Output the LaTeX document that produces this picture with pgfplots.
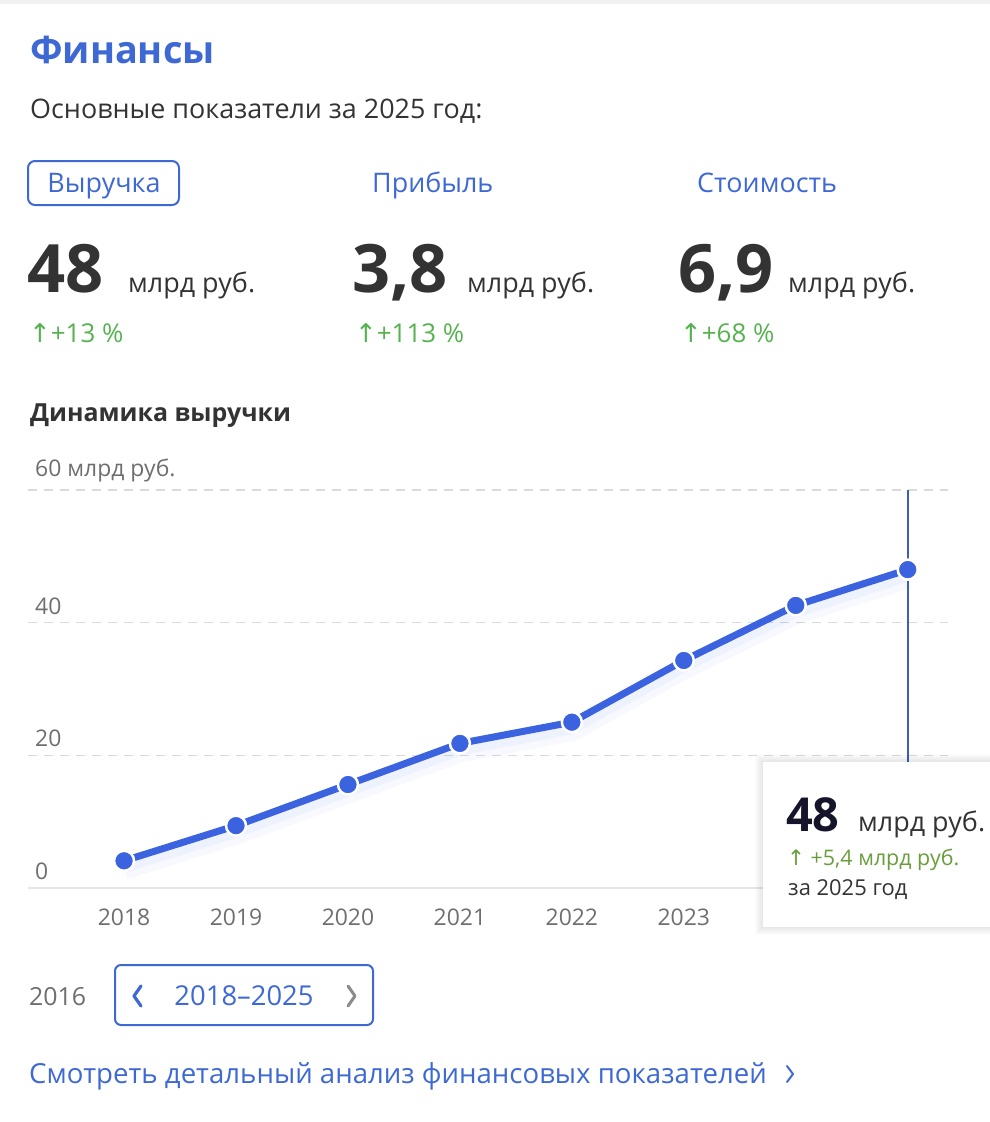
\documentclass[border=0pt]{standalone}
\usepackage{pgfplots}
\pgfplotsset{compat=1.18}
\usepackage{pgfplotstable}
\usepackage{fontspec}
\setmainfont{Open Sans}
\newfontfamily\sym{DejaVu Sans}
\definecolor{tblue}{HTML}{3E69D4}
\definecolor{lblue}{HTML}{3C63DF}
\definecolor{vblue}{HTML}{3F5FB5}
\definecolor{tgreen}{HTML}{55B24F}
\definecolor{ogreen}{HTML}{6A9E3C}
\definecolor{dgray}{HTML}{333333}
\definecolor{mgray}{HTML}{6E6E6E}
\definecolor{gridc}{HTML}{DADADA}
\newcommand{\fs}[1]{\fontsize{#1}{#1}\selectfont}
\pgfplotstableread{
x y
0 4.1
1 9.4
2 15.6
3 21.8
4 25.0
5 34.3
6 42.6
7 48.0
}\revenue
\begin{document}
\begin{tikzpicture}[x=1bp,y=1bp]
\path[use as bounding box] (0,0) rectangle (990,-1122);
\fill[gray!12] (0,0) rectangle (990,-4);
\coordinate (axpos) at (28,-888);
% header
\node[anchor=base west, inner sep=0, text=tblue] at (30,-63) {\fs{38}\bfseries Финансы};
\node[anchor=base west, inner sep=0, text=dgray] at (30,-118) {\fs{27}Основные показатели за 2025 год:};
\draw[tblue, line width=2bp, rounded corners=7bp] (28,-161) rectangle (179,-205);
\node[anchor=base, inner sep=0, text=tblue] at (104,-192) {\fs{27}Выручка};
\node[anchor=base west, inner sep=0, text=tblue] at (372,-192) {\fs{27}Прибыль};
\node[anchor=base west, inner sep=0, text=tblue] at (697,-192) {\fs{27}Стоимость};
% big numbers
\node[anchor=base west, inner sep=0, text=dgray] at (27,-292) {\fs{67}\bfseries 48};
\node[anchor=base west, inner sep=0, text=dgray] at (128,-292) {\fs{27}млрд руб.};
\node[anchor=base west, inner sep=0, text=dgray] at (352,-292) {\fs{67}\bfseries 3,8};
\node[anchor=base west, inner sep=0, text=dgray] at (467,-292) {\fs{27}млрд руб.};
\node[anchor=base west, inner sep=0, text=dgray] at (678,-292) {\fs{67}\bfseries 6,9};
\node[anchor=base west, inner sep=0, text=dgray] at (788,-292) {\fs{27}млрд руб.};
\node[anchor=base west, inner sep=0, text=tgreen] at (29,-342) {\fs{26}{\sym ↑}+13 \%};
\node[anchor=base west, inner sep=0, text=tgreen] at (355,-342) {\fs{26}{\sym ↑}+113 \%};
\node[anchor=base west, inner sep=0, text=tgreen] at (680,-342) {\fs{26}{\sym ↑}+68 \%};
\node[anchor=base west, inner sep=0, text=dgray] at (30,-421) {\fs{25}\bfseries Динамика выручки};
% chart
\begin{axis}[at={(axpos)}, anchor=south west, scale only axis,
  width=920bp, height=398bp,
  xmin=-0.858, xmax=7.36, ymin=0, ymax=60,
  axis x line*=bottom, axis y line*=left,
  x axis line style={draw=gridc!70, line width=2bp},
  y axis line style={draw=none},
  xtick={0,...,7}, xticklabels={2018,2019,2020,2021,2022,2023,2024,2025},
  ytick={0,20,40,60}, yticklabels={0,20,40,60 млрд руб.},
  major tick length=0pt,
  ymajorgrids, grid style={draw=gridc, line width=1.5bp, dash pattern=on 9bp off 7bp},
  yticklabel style={anchor=south west, inner sep=0pt, xshift=7bp, yshift=8bp, font=\fs{23}, text=mgray},
  xticklabel style={anchor=north, inner sep=0pt, yshift=-21bp, font=\fs{23}, text=mgray},
  clip=false]
\addplot[lblue, opacity=0.04, line width=22bp, yshift=-8bp, mark=none] table {\revenue};
\addplot[lblue, opacity=0.05, line width=12bp, yshift=-6bp, mark=none] table {\revenue};
\draw[vblue, line width=2.2bp] (axis cs:7,60) -- (axis cs:7,0);
\addplot[lblue, line width=7bp, mark=*, mark size=10bp,
  mark options={draw=white, line width=2.5bp, fill=lblue}] table {\revenue};
\end{axis}
% tooltip
\foreach \i in {1,...,8} {\fill[black, opacity=0.012] (763-\i,-762+\i) rectangle (1000,-927-\i);}
\fill[white] (763,-762) rectangle (1000,-927);
\node[anchor=base west, inner sep=0, text={rgb,255:red,20;green,20;blue,43}] at (786,-831) {\fs{47}\bfseries 48};
\node[anchor=base west, inner sep=0, text=dgray] at (858,-831) {\fs{27}млрд руб.};
\node[anchor=base west, inner sep=0, text=ogreen] at (787,-865) {\fs{21.5}{\sym ↑}\ +5,4 млрд руб.};
\node[anchor=base west, inner sep=0, text=dgray] at (788,-895) {\fs{22}за 2025 год};
% bottom navigation
\node[anchor=base west, inner sep=0, text=mgray] at (29,-1005) {\fs{25}2016};
\draw[tblue, line width=2bp, rounded corners=6bp] (115,-965) rectangle (373,-1025);
\draw[tblue, line width=3.2bp, line cap=round, line join=round] (141,-986) -- (134,-996) -- (141,-1006);
\draw[mgray!80, line width=3bp, line cap=round, line join=round] (348,-986) -- (355,-996) -- (348,-1006);
\node[anchor=base, inner sep=0, text=tblue] at (244,-1005) {\fs{27.5}2018–2025};
\node[anchor=base west, inner sep=0, text=tblue] at (29,-1083) {\fs{27.7}Смотреть детальный анализ финансовых показателей};
\draw[tblue, line width=2bp, line cap=round, line join=round] (787,-1066) -- (793,-1074) -- (787,-1082);
\end{tikzpicture}
\end{document}
